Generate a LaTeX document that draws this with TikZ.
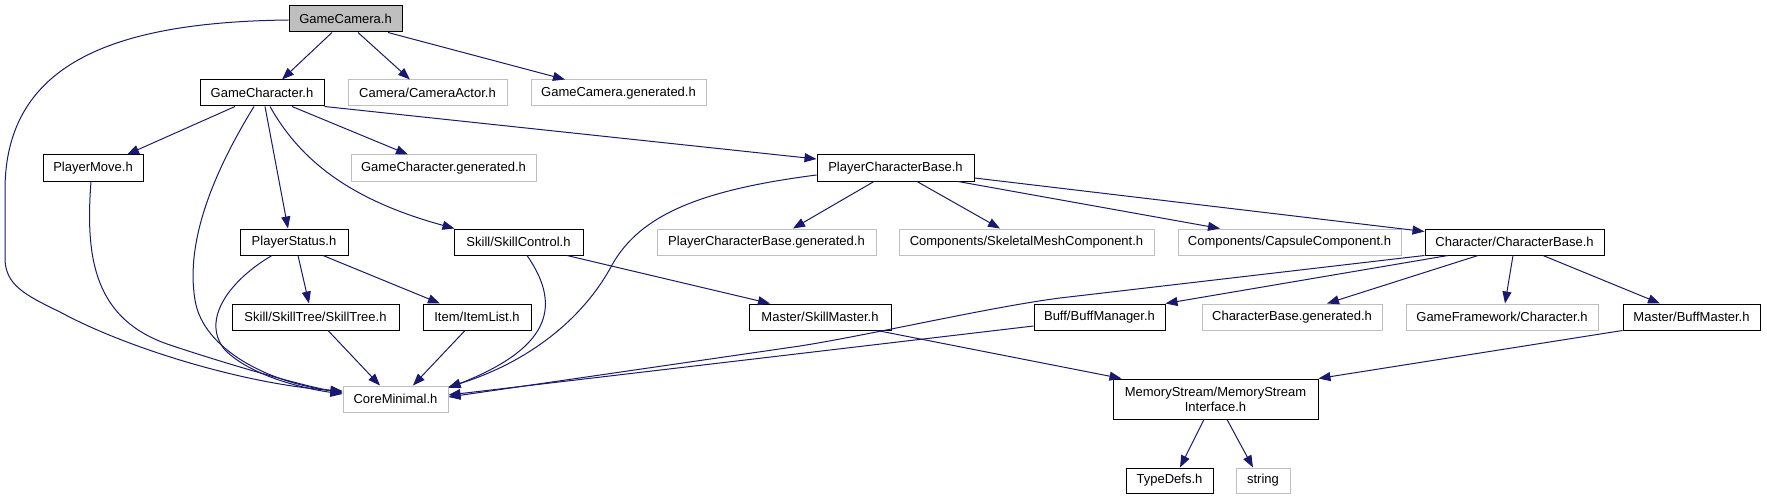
\documentclass[tikz,border=0pt]{standalone}
\usepackage{fontspec}
\setmainfont{Liberation Sans}
\usetikzlibrary{arrows.meta}
\definecolor{edgec}{HTML}{191970}
\definecolor{grayb}{HTML}{BFBFBF}
\begin{document}
\begin{tikzpicture}[x=1pt,y=-1pt,
  hdr/.style={draw=black, line width=1pt, fill=white, inner sep=0pt, minimum height=26pt, font=\fontsize{13}{15}\selectfont},
  ext/.style={draw=grayb, line width=1pt, fill=white, inner sep=0pt, minimum height=26pt, font=\fontsize{13}{15}\selectfont},
  dep/.style={draw=edgec, line width=1pt, -{Triangle[length=12pt,width=9pt]}}]
\useasboundingbox[fill=white] (0,0) rectangle (1767,500);
% nodes
\node[hdr, fill=grayb, minimum width=113pt] (cam) at (345.5,19) {GameCamera.h};
\node[hdr, minimum width=124pt] (gch) at (262,93) {GameCharacter.h};
\node[ext, minimum width=159pt] (cact) at (427.5,93) {Camera/CameraActor.h};
\node[ext, minimum width=175pt] (camgen) at (618.5,93) {GameCamera.generated.h};
\node[hdr, minimum width=100pt] (pm) at (93,168) {PlayerMove.h};
\node[ext, minimum width=185pt] (gchgen) at (443.5,168) {GameCharacter.generated.h};
\node[hdr, minimum width=157pt] (pcb) at (895.5,168) {PlayerCharacterBase.h};
\node[hdr, minimum width=108pt] (ps) at (294,242) {PlayerStatus.h};
\node[hdr, minimum width=129pt] (sc) at (518.5,242) {Skill/SkillControl.h};
\node[ext, minimum width=219pt] (pcbgen) at (766.5,242) {PlayerCharacterBase.generated.h};
\node[ext, minimum width=255pt] (skel) at (1026.5,242) {Components/SkeletalMeshComponent.h};
\node[ext, minimum width=223pt] (caps) at (1289.5,242) {Components/CapsuleComponent.h};
\node[hdr, minimum width=179pt] (cb) at (1514.5,242) {Character/CharacterBase.h};
\node[hdr, minimum width=167pt] (st) at (315.5,317) {Skill/SkillTree/SkillTree.h};
\node[hdr, minimum width=108pt] (il) at (477,317) {Item/ItemList.h};
\node[hdr, minimum width=142pt] (sm) at (820,317) {Master/SkillMaster.h};
\node[hdr, minimum width=131pt] (bm) at (1099.5,317) {Buff/BuffManager.h};
\node[ext, minimum width=180pt] (cbgen) at (1292,317) {CharacterBase.generated.h};
\node[ext, minimum width=192pt] (gf) at (1502,317) {GameFramework/Character.h};
\node[hdr, minimum width=137pt] (bfm) at (1691.5,317) {Master/BuffMaster.h};
\node[ext, minimum width=105pt] (cm) at (395.5,399) {CoreMinimal.h};
\node[hdr, minimum width=205pt, minimum height=40pt, align=center] (ms) at (1215.5,399) {MemoryStream/MemoryStream\\Interface.h};
\node[hdr, minimum width=87pt, minimum height=25pt] (td) at (1169.5,480.5) {TypeDefs.h};
\node[ext, minimum width=54pt, minimum height=25pt] (str) at (1263,480.5) {string};
% edges
\draw[dep] ([xshift=-13.5]cam.south) -- ([xshift=20]gch.north);
\draw[dep] ([xshift=12.5]cam.south) -- ([xshift=-17.5]cact.north);
\draw[dep] ([xshift=42.5]cam.south) -- ([xshift=-53.5]camgen.north);
\draw[dep] ([yshift=-1]cam.west) .. controls (120,22) and (5,60) .. (5,190) -- (5,258) .. controls (5,285) and (25,295) .. (60,312) .. controls (130,350) and (250,385) .. ([yshift=8]cm.west);
\draw[dep] ([xshift=-27]gch.south) -- ([xshift=34]pm.north);
\draw[dep] ([xshift=-8]gch.south) .. controls (215,170) and (185,240) .. (195,300) .. controls (203,350) and (270,383) .. ([yshift=7]cm.west);
\draw[dep] ([xshift=3]gch.south) -- ([xshift=-6]ps.north);
\draw[dep] ([xshift=8]gch.south) .. controls (300,160) and (350,200) .. ([xshift=1]sc.north west);
\draw[dep] ([xshift=30]gch.south) -- ([xshift=-35.5]gchgen.north);
\draw[dep] (gch.south east) -- ([yshift=9]pcb.west);
\draw[dep] ([xshift=-2]pm.south) .. controls (85,260) and (95,320) .. (170,345) .. controls (230,365) and (300,385) .. ([yshift=6]cm.west);
\draw[dep] ([xshift=-22]ps.south) .. controls (230,280) and (200,320) .. (225,350) .. controls (250,375) and (300,388) .. ([yshift=5]cm.west);
\draw[dep] ([xshift=4]ps.south) -- ([xshift=-6.5]st.north);
\draw[dep] ([xshift=29]ps.south) -- ([xshift=-37]il.north);
\draw[dep] ([xshift=12.5]st.south) -- ([xshift=-15.5]cm.north);
\draw[dep] ([xshift=-12]il.south) -- ([xshift=17.5]cm.north);
\draw[dep] ([xshift=8.5]sc.south) .. controls (565,310) and (545,350) .. ([yshift=11]cm.east);
\draw[dep] ([xshift=48.5]sc.south) -- ([xshift=-50]sm.north);
\draw[dep] ([yshift=-7]pcb.west) .. controls (700,190) and (640,215) .. (612,265) .. controls (580,325) and (520,365) .. ([yshift=12]cm.east);
\draw[dep] ([xshift=-21.5]pcb.south) -- ([xshift=26.5]pcbgen.north);
\draw[dep] ([xshift=21.5]pcb.south) -- ([xshift=-26.5]skel.north);
\draw[dep] ([xshift=62.5]pcb.south) -- ([xshift=-69.5]caps.north);
\draw[dep] ([yshift=-10]pcb.east) -- ([yshift=-3]cb.north west);
\draw[dep] (cb.south west) -- (1060,298) .. controls (990,307) and (870,335) .. (800,346) -- ([yshift=2]cm.east);
\draw[dep] ([xshift=-66.5]cb.south) -- (bm.north east);
\draw[dep] ([xshift=-36.5]cb.south) -- ([xshift=35]cbgen.north);
\draw[dep] ([xshift=-1.5]cb.south) -- ([xshift=3]gf.north);
\draw[dep] ([xshift=28.5]cb.south) -- ([xshift=-31.5]bfm.north);
\draw[dep] ([yshift=-9]bm.west) -- ([yshift=4]cm.east);
\draw[dep] ([xshift=57]sm.south) -- ([xshift=9]ms.north west);
\draw[dep] (bfm.south west) -- (ms.north east);
\draw[dep] ([xshift=-11.5]ms.south) -- ([xshift=10.5]td.north);
\draw[dep] ([xshift=11.5]ms.south) -- ([xshift=-10]str.north);
\end{tikzpicture}
\end{document}
